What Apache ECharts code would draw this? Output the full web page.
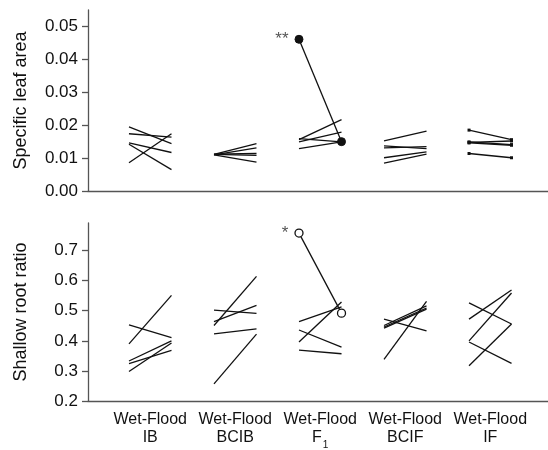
<!DOCTYPE html>
<html>
<head>
<meta charset="utf-8">
<script src="https://cdn.jsdelivr.net/npm/echarts@6/dist/echarts.min.js"></script>
<style>
  html, body { margin: 0; padding: 0; background: #fff; }
  #chart { width: 548px; height: 450px; }
</style>
</head>
<body>
<div id="chart"></div>
<script>
// groups on the x axis (each group: Wet on the left, Flood on the right)
var groups = ["IB", "BCIB", "F1", "BCIF", "IF"];

// specific leaf area, 5 lines per group
var slaWet = [
  [0.0195, 0.0174, 0.0146, 0.0142, 0.0086],
  [0.0111, 0.0110, 0.0112, 0.0111, 0.0110],
  [0.0461, 0.0156, 0.0149, 0.0159, 0.0129],
  [0.0152, 0.0137, 0.0131, 0.0101, 0.0085],
  [0.0185, 0.0148, 0.0149, 0.0146, 0.0114]
];
var slaFlood = [
  [0.0144, 0.0164, 0.0117, 0.0065, 0.0174],
  [0.0144, 0.0131, 0.0114, 0.0108, 0.0088],
  [0.0150, 0.0217, 0.0179, 0.0149, 0.0149],
  [0.0182, 0.0129, 0.0135, 0.0119, 0.0112],
  [0.0156, 0.0152, 0.0141, 0.0139, 0.0101]
];

// shallow root ratio
var srrWet = [
  [0.390, 0.453, 0.333, 0.324, 0.298],
  [0.451, 0.464, 0.502, 0.423, 0.257],
  [0.758, 0.464, 0.396, 0.436, 0.369],
  [0.472, 0.338, 0.451, 0.446, 0.442],
  [0.526, 0.472, 0.400, 0.396, 0.317]
];
var srrFlood = [
  [0.551, 0.411, 0.400, 0.368, 0.393],
  [0.614, 0.518, 0.491, 0.440, 0.422],
  [0.492, 0.513, 0.529, 0.379, 0.357],
  [0.433, 0.531, 0.516, 0.509, 0.505],
  [0.456, 0.569, 0.559, 0.325, 0.456]
];

var slaTicks = [0, 0.01, 0.02, 0.03, 0.04, 0.05];
var srrTicks = [0.2, 0.3, 0.4, 0.5, 0.6, 0.7];

// which line is flagged as significant (group F1, line 0)
var sigGroup = 2;
var slaSig = "**";
var srrSig = "*";

var font = "Liberation Sans";
var axisColor = "#555";

function buildSeries(wet, flood, axisIdx, sigText, filled) {
  var out = [];
  wet.forEach(function (row, g) {
    row.forEach(function (w, k) {
      var isSig = g === sigGroup && k === 0;
      var s = {
        type: "line",
        xAxisIndex: axisIdx,
        yAxisIndex: axisIdx,
        silent: true,
        animation: false,
        z: isSig ? 5 : 2,
        lineStyle: { color: "#111", width: 1.3 },
        showSymbol: false,
        symbol: "none",
        data: [[g - 0.25, w], [g + 0.25, flood[g][k]]]
      };
      if (isSig) {
        s.showSymbol = true;
        s.symbol = "circle";
        s.symbolSize = 8;
        s.itemStyle = filled
          ? { color: "#111", borderColor: "#111", borderWidth: 1 }
          : { color: "#fff", borderColor: "#111", borderWidth: 1.3 };
        s.data = [
          { value: [g - 0.25, w], label: { show: true, position: "left", formatter: sigText, color: "#555", fontFamily: font, fontSize: 17, distance: 6 } },
          [g + 0.25, flood[g][k]]
        ];
      } else if (filled && groups[g] === "IF") {
        // small end dots on the IF leaf lines
        s.showSymbol = true;
        s.symbol = "rect";
        s.symbolSize = 3;
        s.itemStyle = { color: "#111" };
      }
      out.push(s);
    });
  });
  return out;
}

function xAxisCfg(idx, withLabels) {
  return {
    type: "value",
    gridIndex: idx,
    min: -0.732,
    max: 4.679,
    splitLine: { show: false },
    axisTick: { show: false },
    axisLine: { show: true, onZero: false, lineStyle: { color: axisColor, width: 1.3 } },
    axisLabel: {
      show: withLabels,
      customValues: [0, 1, 2, 3, 4],
      margin: 10,
      color: "#111",
      fontFamily: font,
      fontSize: 16,
      lineHeight: 18,
      formatter: function (v) {
        var name = groups[Math.round(v)];
        if (name === "F1") return "Wet-Flood\n{n|F}{sub|1}";
        return "Wet-Flood\n" + name;
      },
      rich: {
        n: { fontFamily: font, fontSize: 16, lineHeight: 18, color: "#111" },
        sub: { fontFamily: font, fontSize: 10, lineHeight: 10, color: "#111", verticalAlign: "bottom", padding: [0, 0, -3, 1] }
      }
    }
  };
}

function yAxisCfg(idx, name, min, max, ticks, digits) {
  return {
    type: "value",
    gridIndex: idx,
    min: min,
    max: max,
    name: name,
    nameLocation: "middle",
    nameGap: 58,
    nameTextStyle: { color: "#111", fontFamily: font, fontSize: 18 },
    splitLine: { show: false },
    axisLine: { show: true, onZero: false, lineStyle: { color: axisColor, width: 1.3 } },
    axisTick: { show: true, length: 6, customValues: ticks, lineStyle: { color: axisColor, width: 1.3 } },
    axisLabel: {
      customValues: ticks,
      margin: 10,
      color: "#111",
      fontFamily: font,
      fontSize: 17,
      formatter: function (v) { return v.toFixed(digits); }
    }
  };
}

var chart = echarts.init(document.getElementById("chart"), null, { renderer: "canvas" });
chart.setOption({
  backgroundColor: "#fff",
  animation: false,
  grid: [
    { left: 88, right: 0, top: 10, height: 181 },
    { left: 88, right: 0, top: 223, height: 181 }
  ],
  xAxis: [xAxisCfg(0, false), xAxisCfg(1, true)],
  yAxis: [
    yAxisCfg(0, "Specific leaf area", 0, 0.055, slaTicks, 2),
    yAxisCfg(1, "Shallow root ratio", 0.2, 0.7915, srrTicks, 1)
  ],
  series: buildSeries(slaWet, slaFlood, 0, slaSig, true)
    .concat(buildSeries(srrWet, srrFlood, 1, srrSig, false))
});
window.addEventListener("resize", function () {
  chart.resize();
});
</script>
</body>
</html>
